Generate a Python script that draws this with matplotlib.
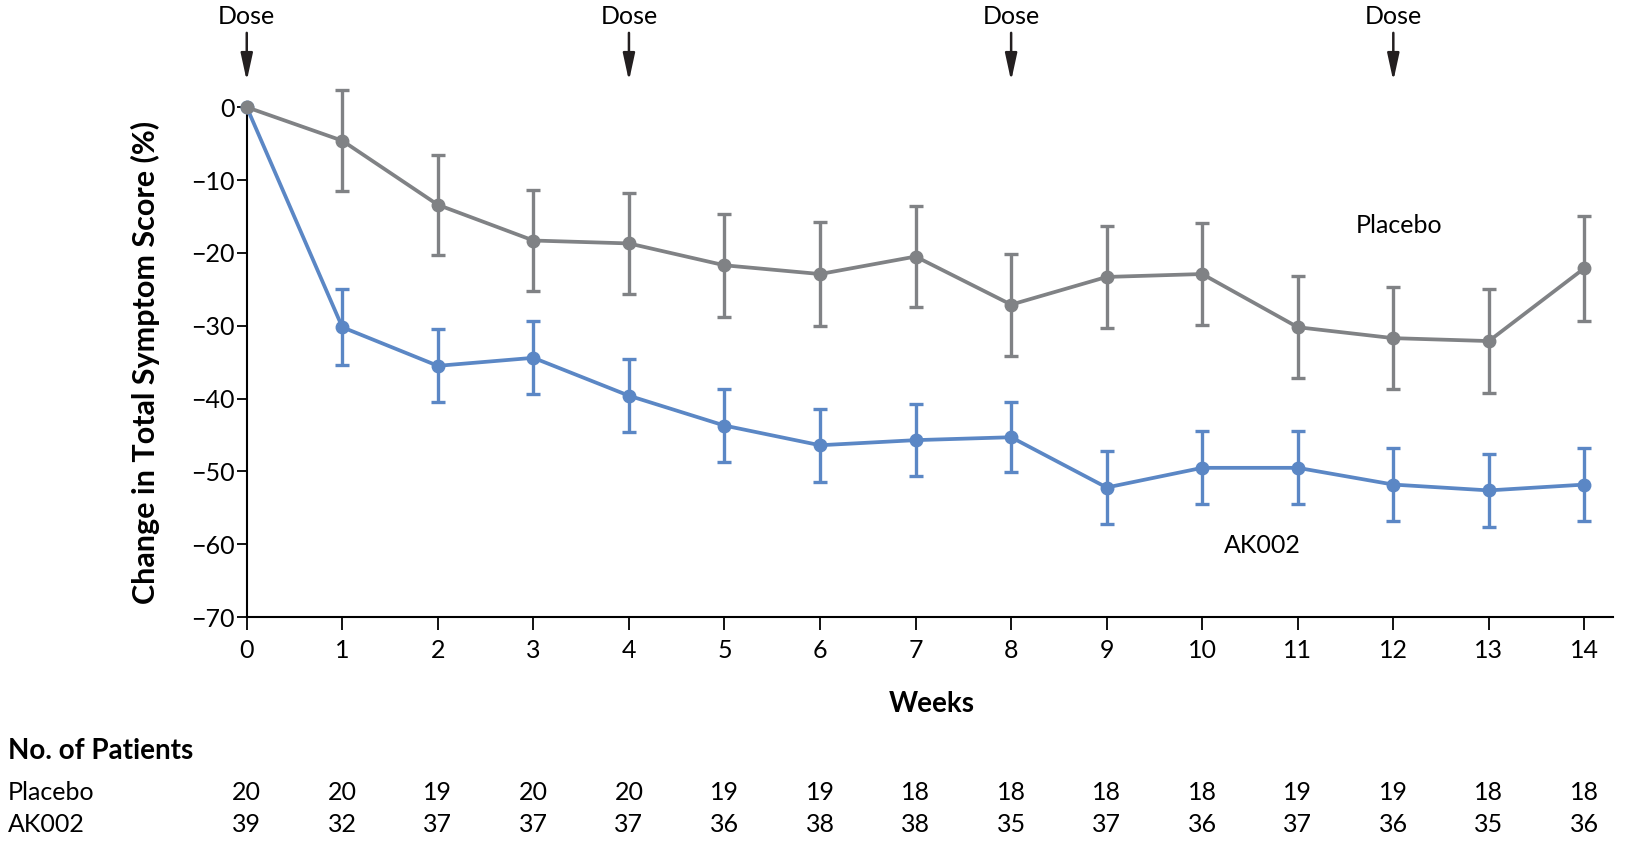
import matplotlib.pyplot as plt
import numpy as np

# Datos
weeks = np.arange(0, 15)
placebo_mean = [0, -4.6, -13.4, -18.3, -18.7, -21.7, -22.9, -20.5, -27.1, -23.3, -22.9, -30.2, -31.7, -32.1, -22.1]
placebo_err = [0, 6.9, 6.9, 6.9, 6.9, 7.1, 7.1, 6.9, 7.0, 7.0, 7.0, 7.0, 7.0, 7.1, 7.2]
ak002_mean = [0, -30.2, -35.5, -34.4, -39.6, -43.7, -46.4, -45.7, -45.3, -52.2, -49.5, -49.5, -51.8, -52.6, -51.8]
ak002_err = [0, 5.2, 5.0, 5.0, 5.0, 5.0, 5.0, 4.9, 4.8, 5.0, 5.0, 5.0, 5.0, 5.0, 5.0]
dose_weeks = [0, 4, 8, 12]
n_placebo = [20, 20, 19, 20, 20, 19, 19, 18, 18, 18, 18, 19, 19, 18, 18]
n_ak002 = [39, 32, 37, 37, 37, 36, 38, 38, 35, 37, 36, 37, 36, 35, 36]

GRAY = "#808285"
BLUE = "#5b87c5"
plt.rcParams["font.family"] = ["Lato", "DejaVu Sans"]

fig = plt.figure(figsize=(16.32, 8.42), dpi=100)
ax = fig.add_axes([0.1512, 0.267, 0.8372, 0.6057])

# Series con barras de error
ax.errorbar(weeks[1:], ak002_mean[1:], yerr=ak002_err[1:], fmt="none", ecolor=BLUE,
            elinewidth=2.4, capsize=4.8, capthick=2.4, clip_on=False, zorder=2)
ax.plot(weeks, ak002_mean, color=BLUE, lw=2.7, marker="o", ms=9, clip_on=False, zorder=3)
ax.errorbar(weeks[1:], placebo_mean[1:], yerr=placebo_err[1:], fmt="none", ecolor=GRAY,
            elinewidth=2.4, capsize=4.8, capthick=2.4, clip_on=False, zorder=4)
ax.plot(weeks, placebo_mean, color=GRAY, lw=2.7, marker="o", ms=9, clip_on=False, zorder=5)

ax.set_xlim(0, 14.3)
ax.set_ylim(-70, 0)
ax.set_xticks(weeks)
ax.set_yticks(np.arange(-70, 1, 10))
ax.spines["top"].set_visible(False)
ax.spines["right"].set_visible(False)
ax.spines["left"].set_linewidth(1.5)
ax.spines["bottom"].set_linewidth(1.5)
ax.tick_params(axis="x", direction="out", length=9.5, width=1.3, labelsize=18, pad=6)
ax.tick_params(axis="y", direction="out", length=7, width=1.3, labelsize=18, pad=2)

# Flechas de dosis
for w in dose_weeks:
    ax.annotate("", xy=(w, 3.6), xytext=(w, 10.2), annotation_clip=False,
                arrowprops=dict(arrowstyle="-|>,head_length=1.65,head_width=0.36",
                                color="#231f20", lw=1.8, shrinkA=0, shrinkB=0))
    ax.text(w, 12.4, "Dose", ha="center", va="center", fontsize=18, clip_on=False)

ax.text(12.06, -16.3, "Placebo", ha="center", va="center", fontsize=18)
ax.text(10.63, -60.1, "AK002", ha="center", va="center", fontsize=18)

ax.set_ylabel("Change in Total Symptom Score (%)", fontsize=22, fontweight="bold",
              labelpad=22)
fig.text(931.5 / 1632, 1 - 703.6 / 842, "Weeks", ha="center", va="center",
         fontsize=20, fontweight="bold")

# Tabla de número de pacientes
fig.text(8 / 1632, 1 - 751 / 842, "No. of Patients", ha="left", va="center",
         fontsize=20, fontweight="bold")
fig.text(8 / 1632, 1 - 793 / 842, "Placebo", ha="left", va="center", fontsize=18)
fig.text(8 / 1632, 1 - 825 / 842, "AK002", ha="left", va="center", fontsize=18)
for w, n1, n2 in zip(weeks, n_placebo, n_ak002):
    ax.annotate(str(n1), xy=(w, 0), xycoords=("data", "figure fraction"),
                xytext=(w, 1 - 793 / 842), textcoords=("data", "figure fraction"),
                ha="center", va="center", fontsize=18, annotation_clip=False)
    ax.annotate(str(n2), xy=(w, 0), xycoords=("data", "figure fraction"),
                xytext=(w, 1 - 825 / 842), textcoords=("data", "figure fraction"),
                ha="center", va="center", fontsize=18, annotation_clip=False)

fig.savefig("out.png", dpi=100)
